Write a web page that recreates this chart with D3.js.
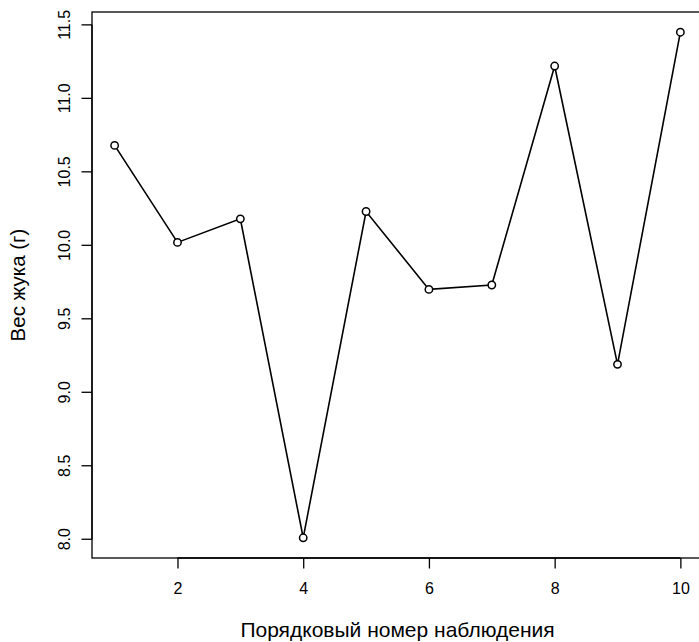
<!DOCTYPE html>
<html>
<head>
<meta charset="utf-8">
<script src="https://cdn.jsdelivr.net/npm/d3@7"></script>
<style>
  body { margin: 0; background: #fff; }
  svg text { font-family: "Liberation Sans", Arial, sans-serif; fill: #000; }
</style>
</head>
<body>
<svg id="chart"></svg>
<script>
const observations = [1, 2, 3, 4, 5, 6, 7, 8, 9, 10];
const weights = [10.68, 10.02, 10.18, 8.01, 10.23, 9.70, 9.73, 11.22, 9.19, 11.45];
const xTicks = [2, 4, 6, 8, 10];
const yTicks = [8.0, 8.5, 9.0, 9.5, 10.0, 10.5, 11.0, 11.5];
const xLabel = "Порядковый номер наблюдения";
const yLabel = "Вес жука (г)";

const W = 699, H = 642;
const margin = {top: 12, right: -4, bottom: 84, left: 92};

const svg = d3.select("#chart").attr("width", W).attr("height", H);

// R-style 4% padding on each side
const pad = (ext) => {
    const d = (ext[1] - ext[0]) * 0.04;
    return [ext[0] - d, ext[1] + d];
};

const x = d3.scaleLinear()
    .domain(pad(d3.extent(observations)))
    .range([margin.left, W - margin.right]);
const y = d3.scaleLinear()
    .domain(pad(d3.extent(weights)))
    .range([H - margin.bottom, margin.top]);

const data = observations.map((o, i) => ({x: o, y: weights[i]}));

// plot box
svg.append("rect")
    .attr("x", x.range()[0])
    .attr("y", y.range()[1])
    .attr("width", x.range()[1] - x.range()[0])
    .attr("height", y.range()[0] - y.range()[1])
    .attr("fill", "none")
    .attr("stroke", "#000")
    .attr("stroke-width", 1.3);

const xAxis = svg.append("g")
    .attr("transform", `translate(0, ${y.range()[0]})`)
    .call(d3.axisBottom(x).tickValues(xTicks).tickSize(10.5).tickPadding(14).tickSizeOuter(0));
xAxis.select(".domain")
    .attr("d", `M${x(xTicks[0])},0H${x(xTicks[xTicks.length - 1])}`);
xAxis.selectAll("text").attr("font-size", 16).attr("font-family", null);
xAxis.selectAll("line, path").attr("stroke-width", 1.3);

const yAxis = svg.append("g")
    .attr("transform", `translate(${x.range()[0]}, 0)`)
    .call(d3.axisLeft(y).tickValues(yTicks).tickFormat(d3.format(".1f")).tickSize(10.5).tickSizeOuter(0));
yAxis.select(".domain")
    .attr("d", `M0,${y(yTicks[0])}V${y(yTicks[yTicks.length - 1])}`);
yAxis.selectAll("line, path").attr("stroke-width", 1.3);
yAxis.selectAll("text")
    .attr("font-size", 16)
    .attr("font-family", null)
    .attr("x", null).attr("dy", null)
    .attr("text-anchor", "middle")
    .attr("transform", d => `translate(-22, ${y(d)}) rotate(-90)`)
    .attr("y", 0);
yAxis.selectAll(".tick").attr("transform", null);
yAxis.selectAll(".tick line").attr("transform", d => `translate(0, ${y(d)})`);

// line + points (type = "b")
svg.append("path")
    .datum(data)
    .attr("fill", "none")
    .attr("stroke", "#000")
    .attr("stroke-width", 1.6)
    .attr("d", d3.line().x(d => x(d.x)).y(d => y(d.y)));

svg.selectAll("circle.pt")
    .data(data)
    .join("circle")
    .attr("class", "pt")
    .attr("cx", d => x(d.x))
    .attr("cy", d => y(d.y))
    .attr("r", 3.7)
    .attr("fill", "#fff")
    .attr("stroke", "#000")
    .attr("stroke-width", 1.5);

// axis titles
svg.append("text")
    .attr("x", (x.range()[0] + x.range()[1]) / 2)
    .attr("y", 637)
    .attr("text-anchor", "middle")
    .attr("font-size", 21)
    .text(xLabel);

svg.append("text")
    .attr("transform", `translate(25, ${(y.range()[0] + y.range()[1]) / 2}) rotate(-90)`)
    .attr("text-anchor", "middle")
    .attr("font-size", 20.5)
    .text(yLabel);
</script>
</body>
</html>
